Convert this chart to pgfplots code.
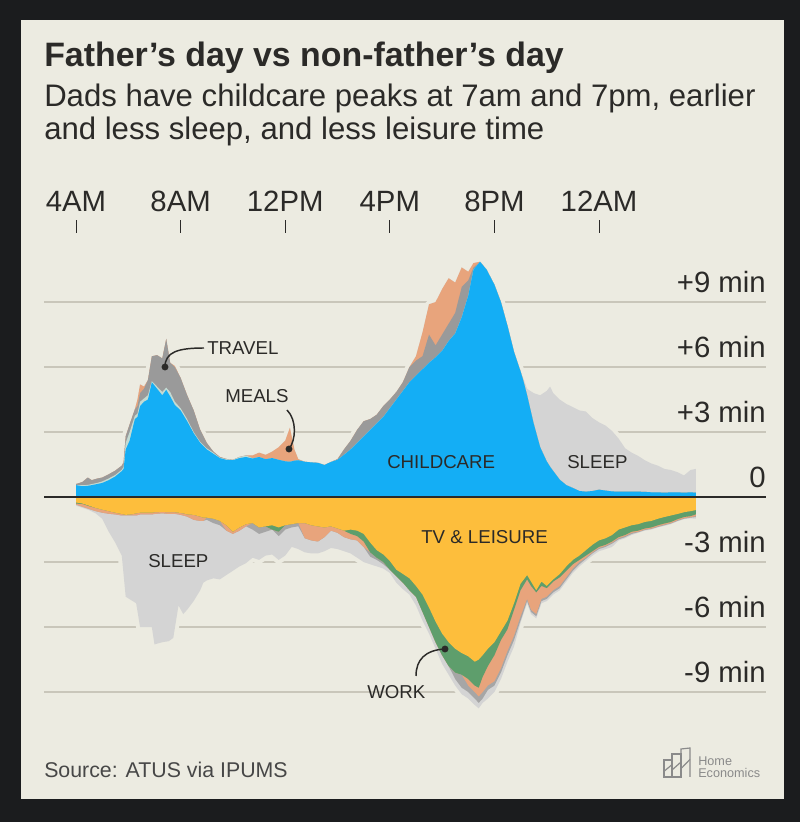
\documentclass[border=0pt]{standalone}
\usepackage{pgfplots}
\usepackage{pgfplotstable}
\pgfplotsset{compat=1.18}
\usepackage{fontspec}
\setmainfont{Liberation Sans}
\definecolor{frame}{HTML}{1B1C1E}
\definecolor{bg}{HTML}{ECEBE1}
\definecolor{gridc}{HTML}{C9C6BA}
\definecolor{txt}{HTML}{2B2A28}
\definecolor{cc}{HTML}{14AEF5}
\definecolor{mint}{HTML}{C3DBD3}
\definecolor{trav}{HTML}{9A9A9A}
\definecolor{meal}{HTML}{E8A47C}
\definecolor{slp}{HTML}{D4D4D4}
\definecolor{tv}{HTML}{FDBE3C}
\definecolor{wrk}{HTML}{5E9E6C}
\definecolor{ngray}{HTML}{A6A6A6}
\definecolor{logo}{HTML}{8A8A8A}

% positive side: cumulative tops (childcare, +other, +travel, +meals, +sleep)
\pgfplotstableread{
t c m g o s
4.00 0.55 0.55 0.60 0.60 0.60
4.25 0.50 0.55 0.70 0.70 0.70
4.45 0.52 0.56 0.90 0.90 0.90
4.60 0.55 0.60 0.78 0.78 0.78
4.80 0.60 0.65 0.85 0.85 0.85
5.00 0.65 0.72 0.90 0.90 0.90
5.25 0.78 0.86 1.05 1.05 1.05
5.50 0.95 1.02 1.22 1.22 1.22
5.75 1.20 1.26 1.45 1.45 1.45
5.82 1.30 1.40 1.60 1.60 1.60
5.90 2.20 2.50 2.80 2.80 2.80
6.05 2.60 3.00 3.35 3.35 3.35
6.25 3.60 3.75 4.05 4.05 4.05
6.35 3.70 3.85 4.20 4.50 4.50
6.45 4.20 4.40 4.80 5.20 5.20
6.60 4.40 4.55 5.00 5.10 5.10
6.75 4.50 4.70 5.40 5.40 5.40
6.90 5.30 5.35 6.50 6.50 6.50
7.10 5.00 5.10 6.55 6.55 6.55
7.30 4.70 4.85 6.40 6.40 6.40
7.45 4.95 5.05 7.30 7.30 7.30
7.60 4.65 4.85 6.20 6.20 6.20
7.78 4.25 4.40 6.00 6.05 6.05
8.00 4.00 4.10 5.50 5.50 5.50
8.25 3.50 3.60 4.70 4.70 4.70
8.50 2.95 3.00 4.00 4.00 4.00
8.75 2.50 2.55 3.10 3.10 3.10
9.00 2.20 2.25 2.50 2.50 2.50
9.25 2.00 2.05 2.10 2.10 2.10
9.50 1.80 1.82 1.85 1.85 1.85
9.75 1.72 1.75 1.76 1.76 1.76
10.00 1.70 1.72 1.72 1.72 1.72
10.25 1.80 1.85 1.85 1.85 1.85
10.50 1.85 1.92 1.92 1.92 1.92
10.75 1.78 1.80 1.80 1.92 1.92
11.00 1.85 1.85 1.85 2.05 2.05
11.25 1.75 1.75 1.75 1.95 1.95
11.50 1.80 1.80 1.80 2.10 2.10
11.75 1.72 1.72 1.72 2.30 2.30
12.00 1.65 1.65 1.65 2.60 2.60
12.18 1.63 1.63 1.63 3.20 3.20
12.35 1.68 1.68 1.68 2.20 2.20
12.50 1.70 1.70 1.70 1.75 1.75
12.75 1.63 1.63 1.63 1.63 1.63
13.00 1.60 1.60 1.60 1.60 1.60
13.25 1.58 1.58 1.58 1.58 1.58
13.50 1.48 1.48 1.48 1.48 1.48
13.75 1.62 1.62 1.62 1.62 1.62
14.00 1.72 1.72 1.75 1.75 1.75
14.25 1.95 1.95 2.20 2.20 2.20
14.50 2.20 2.20 2.60 2.60 2.60
14.75 2.50 2.50 3.10 3.10 3.10
15.00 2.80 2.80 3.50 3.50 3.50
15.25 3.10 3.10 3.60 3.60 3.60
15.50 3.40 3.40 3.80 3.80 3.80
15.75 3.70 3.70 4.20 4.20 4.20
16.00 4.10 4.10 4.50 4.50 4.50
16.25 4.50 4.50 4.85 4.85 4.85
16.50 4.90 4.90 5.30 5.30 5.30
16.75 5.30 5.30 6.00 6.00 6.00
17.00 5.60 5.60 6.30 6.50 6.50
17.25 5.90 5.90 6.50 7.60 7.60
17.50 6.20 6.20 7.50 8.90 8.90
17.75 6.45 6.45 7.00 9.00 9.00
18.00 6.75 6.75 7.50 9.60 9.60
18.25 7.20 7.20 8.00 10.10 10.10
18.50 7.55 7.55 8.50 9.90 9.90
18.75 8.30 8.30 9.70 10.60 10.60
19.00 9.30 9.30 10.00 10.40 10.40
19.20 10.50 10.50 10.60 10.80 10.80
19.45 10.86 10.86 10.86 10.86 10.86
19.70 10.50 10.50 10.50 10.50 10.50
20.00 9.80 9.80 9.80 9.80 9.80
20.25 9.00 9.00 9.00 9.00 9.00
20.50 7.90 7.90 7.90 7.90 7.90
20.75 6.70 6.70 6.70 6.70 6.70
21.00 5.80 5.80 5.80 5.80 5.80
21.10 5.40 5.40 5.40 5.40 5.50
21.25 4.70 4.70 4.70 4.70 5.00
21.50 3.40 3.40 3.40 3.40 4.80
21.75 2.30 2.30 2.30 2.30 4.70
22.00 1.65 1.65 1.65 1.65 4.90
22.13 1.40 1.40 1.40 1.40 5.10
22.25 1.20 1.20 1.20 1.20 4.80
22.50 0.80 0.80 0.80 0.80 4.50
22.75 0.55 0.55 0.55 0.55 4.30
23.00 0.42 0.42 0.42 0.42 4.15
23.25 0.28 0.28 0.28 0.28 4.00
23.50 0.25 0.25 0.25 0.25 3.95
23.75 0.28 0.28 0.28 0.28 3.65
24.00 0.34 0.34 0.34 0.34 3.45
24.25 0.30 0.30 0.30 0.30 3.30
24.50 0.26 0.26 0.26 0.26 3.05
24.75 0.25 0.25 0.25 0.25 2.70
25.00 0.25 0.25 0.25 0.25 2.25
25.25 0.25 0.25 0.25 0.25 2.05
25.50 0.25 0.25 0.25 0.25 1.90
25.75 0.24 0.24 0.24 0.24 1.70
26.00 0.22 0.22 0.22 0.22 1.55
26.25 0.22 0.22 0.22 0.22 1.45
26.50 0.20 0.20 0.20 0.20 1.30
26.75 0.22 0.22 0.22 0.22 1.25
27.00 0.22 0.22 0.22 0.22 1.15
27.25 0.20 0.20 0.20 0.20 1.00
27.50 0.22 0.22 0.22 0.22 1.25
27.70 0.20 0.20 0.20 0.20 1.30
}\postab

% negative side: cumulative bottoms (TV & leisure, +work, +meals, +travel, +sleep)
\pgfplotstableread{
t y w o g s
4.00 -0.25 -0.30 -0.35 -0.35 -0.40
4.25 -0.30 -0.32 -0.45 -0.45 -0.50
4.50 -0.40 -0.42 -0.55 -0.55 -0.60
4.75 -0.50 -0.50 -0.65 -0.65 -0.75
5.00 -0.58 -0.58 -0.72 -0.72 -1.00
5.25 -0.65 -0.65 -0.77 -0.77 -1.60
5.50 -0.72 -0.72 -0.80 -0.80 -2.10
5.75 -0.78 -0.78 -0.85 -0.85 -2.70
5.90 -0.82 -0.82 -0.85 -0.85 -4.60
6.10 -0.80 -0.80 -0.85 -0.85 -4.75
6.30 -0.75 -0.75 -0.85 -0.85 -4.90
6.45 -0.72 -0.72 -0.80 -0.80 -6.00
6.90 -0.72 -0.72 -0.80 -0.80 -6.00
7.00 -0.70 -0.70 -0.78 -0.78 -6.80
7.30 -0.68 -0.68 -0.75 -0.75 -6.70
7.55 -0.70 -0.70 -0.78 -0.78 -6.65
7.72 -0.70 -0.70 -0.78 -0.78 -6.50
7.80 -0.70 -0.70 -0.78 -0.78 -5.90
7.92 -0.72 -0.72 -0.80 -0.80 -5.00
8.10 -0.75 -0.75 -0.85 -0.85 -5.40
8.25 -0.80 -0.80 -0.90 -0.90 -5.20
8.50 -0.82 -0.82 -1.05 -1.05 -4.80
8.75 -0.90 -0.90 -1.10 -1.10 -4.30
8.87 -0.95 -0.95 -1.10 -1.10 -3.95
9.00 -0.95 -0.95 -0.95 -1.05 -3.85
9.25 -1.00 -1.00 -1.00 -1.20 -3.75
9.50 -1.10 -1.10 -1.10 -1.30 -3.80
9.75 -1.30 -1.30 -1.55 -1.55 -3.60
10.00 -1.60 -1.60 -1.70 -1.70 -3.40
10.25 -1.40 -1.40 -1.55 -1.55 -3.20
10.50 -1.25 -1.25 -1.35 -1.35 -3.05
10.75 -1.20 -1.20 -1.20 -1.50 -2.80
11.00 -1.40 -1.40 -1.40 -1.70 -2.90
11.25 -1.35 -1.35 -1.35 -1.60 -2.70
11.50 -1.30 -1.50 -1.50 -1.50 -2.65
11.75 -1.40 -1.60 -1.60 -1.80 -2.90
12.00 -1.30 -1.30 -1.30 -1.50 -2.70
12.25 -1.25 -1.25 -1.25 -1.40 -2.30
12.50 -1.20 -1.20 -1.20 -1.35 -2.40
12.75 -1.20 -1.20 -1.90 -1.90 -2.55
13.00 -1.30 -1.30 -2.00 -2.00 -2.60
13.25 -1.35 -1.35 -2.05 -2.05 -2.60
13.50 -1.40 -1.40 -1.85 -1.85 -2.50
13.75 -1.35 -1.35 -1.55 -1.55 -2.35
14.00 -1.45 -1.45 -1.65 -1.65 -2.40
14.25 -1.55 -1.55 -1.85 -1.85 -2.50
14.50 -1.50 -1.70 -1.95 -1.95 -2.60
14.75 -1.55 -1.80 -2.00 -2.00 -2.80
15.00 -1.70 -2.05 -2.30 -2.30 -3.00
15.25 -2.10 -2.55 -2.55 -2.75 -3.10
15.50 -2.45 -2.80 -2.80 -2.90 -3.20
15.75 -2.65 -3.00 -3.00 -3.10 -3.30
16.00 -2.95 -3.35 -3.35 -3.35 -3.50
16.25 -3.35 -3.65 -3.65 -3.65 -3.95
16.50 -3.55 -3.95 -3.95 -3.95 -4.25
16.75 -3.75 -4.30 -4.30 -4.30 -4.50
17.00 -4.10 -4.60 -4.60 -4.60 -5.00
17.25 -4.50 -5.30 -5.30 -5.30 -5.70
17.50 -5.10 -6.00 -6.00 -6.00 -6.30
17.75 -5.75 -6.70 -6.70 -6.70 -7.00
18.00 -6.30 -7.30 -7.30 -7.30 -7.70
18.25 -6.70 -7.80 -7.80 -7.80 -8.20
18.50 -7.00 -8.10 -8.10 -8.40 -8.70
18.75 -7.20 -8.20 -8.20 -8.80 -9.10
19.00 -7.35 -8.40 -8.70 -9.00 -9.30
19.25 -7.60 -8.70 -9.00 -9.30 -9.60
19.40 -7.50 -8.80 -9.20 -9.50 -9.75
19.55 -7.30 -8.30 -9.00 -9.30 -9.50
19.75 -7.00 -7.80 -8.70 -8.90 -9.30
20.00 -6.70 -7.30 -8.50 -8.70 -9.00
20.25 -6.20 -6.60 -7.90 -8.10 -8.40
20.50 -5.70 -6.10 -7.10 -7.30 -7.60
20.75 -4.90 -5.20 -6.40 -6.60 -6.90
21.00 -4.00 -4.30 -5.50 -5.70 -5.80
21.25 -3.60 -3.80 -4.70 -4.80 -4.90
21.40 -3.90 -4.10 -5.20 -5.30 -5.40
21.60 -4.30 -4.40 -5.40 -5.50 -5.60
21.80 -3.90 -4.10 -4.70 -4.80 -4.90
22.00 -4.10 -4.20 -4.60 -4.70 -4.80
22.25 -3.80 -3.90 -4.30 -4.40 -4.50
22.50 -3.55 -3.70 -4.10 -4.20 -4.30
22.75 -3.20 -3.40 -3.70 -3.80 -3.90
23.00 -2.90 -3.10 -3.30 -3.40 -3.50
23.25 -2.70 -2.90 -3.00 -3.10 -3.20
23.50 -2.45 -2.70 -2.80 -2.85 -2.95
23.75 -2.20 -2.50 -2.55 -2.60 -2.70
24.00 -2.00 -2.30 -2.35 -2.40 -2.50
24.25 -1.90 -2.20 -2.25 -2.30 -2.40
24.50 -1.75 -2.05 -2.10 -2.15 -2.30
24.75 -1.50 -1.85 -1.90 -1.95 -2.00
25.00 -1.40 -1.75 -1.80 -1.85 -1.90
25.25 -1.30 -1.60 -1.65 -1.70 -1.75
25.50 -1.25 -1.55 -1.60 -1.62 -1.65
25.75 -1.15 -1.45 -1.50 -1.52 -1.55
26.00 -1.10 -1.40 -1.45 -1.47 -1.50
26.25 -1.00 -1.30 -1.35 -1.38 -1.40
26.50 -0.92 -1.22 -1.27 -1.30 -1.33
26.75 -0.85 -1.15 -1.20 -1.22 -1.25
27.00 -0.78 -1.02 -1.07 -1.10 -1.12
27.25 -0.70 -0.92 -0.97 -1.00 -1.02
27.50 -0.65 -0.88 -0.93 -0.95 -0.98
27.70 -0.60 -0.80 -0.88 -0.92 -1.00
}\negtab

\begin{document}
\begin{tikzpicture}
% frame and panel
\fill[frame] (0pt,0pt) rectangle (600pt,616.5pt);
\fill[bg] (15.75pt,17.25pt) rectangle (588pt,601.5pt);

\begin{axis}[
  at={(33pt,64.95pt)}, anchor=south west, scale only axis,
  width=541.5pt, height=376.7pt,
  xmin=2.776, xmax=30.386, ymin=-11, ymax=12.183,
  axis line style={draw=none},
  xtick={4,8,12,16,20,24},
  xticklabels={4AM,8AM,12PM,4PM,8PM,12AM},
  xtick pos=right, xticklabel pos=right, tick align=outside,
  major tick length=9.75pt,
  xtick style={draw=txt, line width=0.7pt},
  xticklabel style={font=\fontsize{22}{22}\selectfont, text=txt, anchor=base, yshift=6.5pt},
  ytick={-9,-6,-3,0,3,6,9},
  yticklabels={-9 min,-6 min,-3 min,0,+3 min,+6 min,+9 min},
  yticklabel pos=right, ytick style={draw=none},
  yticklabel style={font=\fontsize{22}{22}\selectfont, text=txt, anchor=base east, inner sep=0pt, xshift=-9.75pt, yshift=7.5pt},
  ymajorgrids, major grid style={draw=gridc, line width=1.3pt},
  clip=false,
]
% halos around the outer envelopes
\addplot[draw=bg, line width=6pt, line join=round] table[x=t,y=s]{\postab};
\addplot[draw=bg, line width=6pt, line join=round] table[x=t,y=s]{\negtab};
% positive layers
\addplot[fill=slp, draw=none] table[x=t,y=s]{\postab} \closedcycle;
\addplot[fill=meal, draw=none] table[x=t,y=o]{\postab} \closedcycle;
\addplot[fill=trav, draw=none] table[x=t,y=g]{\postab} \closedcycle;
\addplot[fill=mint, draw=none] table[x=t,y=m]{\postab} \closedcycle;
\addplot[fill=cc, draw=none] table[x=t,y=c]{\postab} \closedcycle;
% negative layers
\addplot[fill=slp, draw=none] table[x=t,y=s]{\negtab} \closedcycle;
\addplot[fill=ngray, draw=none] table[x=t,y=g]{\negtab} \closedcycle;
\addplot[fill=meal, draw=none] table[x=t,y=o]{\negtab} \closedcycle;
\addplot[fill=wrk, draw=none] table[x=t,y=w]{\negtab} \closedcycle;
\addplot[fill=tv, draw=none] table[x=t,y=y]{\negtab} \closedcycle;
\draw[txt, line width=1.5pt] (axis cs:2.776,0) -- (axis cs:30.386,0);
\end{axis}

% titles
\node[anchor=base west, inner sep=0pt, text=txt, font=\fontsize{25.4}{30}\selectfont\bfseries] at (33pt,566.25pt) {Father’s day vs non-father’s day};
\node[anchor=base west, inner sep=0pt, text=txt, font=\fontsize{23.35}{24}\selectfont] at (33pt,536.25pt) {Dads have childcare peaks at 7am and 7pm, earlier};
\node[anchor=base west, inner sep=0pt, text=txt, font=\fontsize{23.35}{24}\selectfont] at (33pt,512pt) {and less sleep, and less leisure time};

% annotations
\begin{scope}[every node/.style={anchor=base west, inner sep=0pt, text=txt, font=\fontsize{14}{14}\selectfont}]
\node at (155.25pt,350.25pt) {TRAVEL};
\node at (168.75pt,314.25pt) {MEALS};
\node at (290.25pt,264.75pt) {CHILDCARE};
\node at (425.25pt,264.75pt) {SLEEP};
\node at (315.75pt,208.5pt) {TV \& LEISURE};
\node at (111pt,190.5pt) {SLEEP};
\node at (275.25pt,92.25pt) {WORK};
\end{scope}
\draw[txt, line width=1.1pt] (123.75pt,341.25pt) .. controls (123.75pt,352.5pt) and (133.5pt,355.5pt) .. (153pt,355.5pt);
\fill[txt] (123.75pt,341.25pt) circle (2.6pt);
\draw[txt, line width=1.1pt] (215.25pt,309pt) .. controls (222.75pt,301.5pt) and (222pt,286.5pt) .. (216.75pt,279.75pt);
\fill[txt] (216.75pt,279.75pt) circle (2.6pt);
\draw[txt, line width=1.1pt] (333.75pt,129.75pt) .. controls (318.75pt,129pt) and (312pt,121.5pt) .. (312pt,109.5pt);
\fill[txt] (333.75pt,129.75pt) circle (2.6pt);

% source and logo
\node[anchor=base west, inner sep=0pt, text=black!72, font=\fontsize{16}{16}\selectfont] at (33pt,33pt) {Source: ATUS via IPUMS};
\begin{scope}[draw=logo, line width=0.9pt]
\draw (498pt,33.75pt) rectangle (504pt,46.5pt);
\draw (504pt,33.75pt) rectangle (510.75pt,51pt);
\draw (510.75pt,33.75pt) -- (510.75pt,54.75pt) -- (517.5pt,55.5pt) -- (517.5pt,33.75pt);
\draw (498pt,38pt) -- (504pt,43pt);
\draw (504pt,39pt) -- (510.75pt,45pt);
\draw (510.75pt,40pt) -- (517.5pt,47pt);
\end{scope}
\node[anchor=base west, inner sep=0pt, text=logo, font=\fontsize{9.5}{9.5}\selectfont] at (523.5pt,42pt) {Home};
\node[anchor=base west, inner sep=0pt, text=logo, font=\fontsize{9.5}{9.5}\selectfont] at (523.5pt,33.75pt) {Economics};
\end{tikzpicture}
\end{document}
